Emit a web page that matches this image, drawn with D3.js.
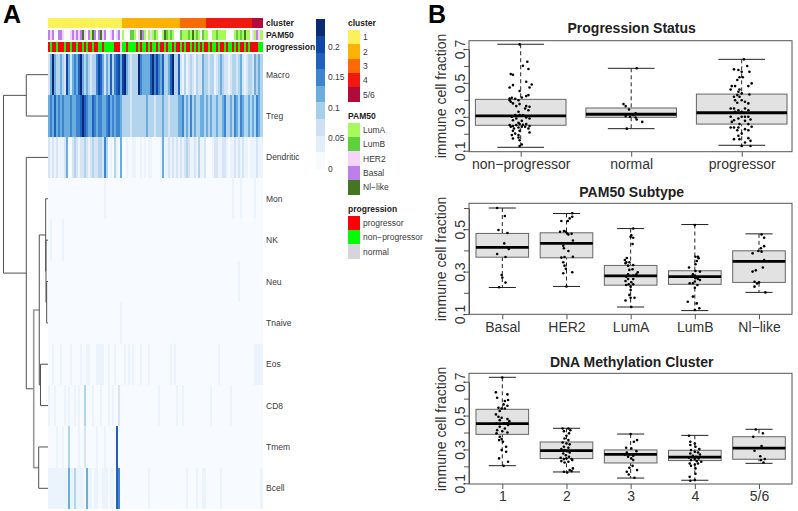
<!DOCTYPE html>
<html><head><meta charset="utf-8">
<script src="https://d3js.org/d3.v7.min.js"></script>
<style>html,body{margin:0;background:#fff}svg{display:block}text{font-family:"Liberation Sans",Arial,sans-serif}</style>
</head><body><svg id="c" width="798" height="511"></svg>
<script>
// ---- heatmap data (immune fraction in percent per sample column) ----
const rowNames=["Macro","Treg","Dendritic","Mon","NK","Neu","Tnaive","Eos","CD8","Tmem","Bcell"];
const clusterNames=["1","2","3","4","5/6"];
const clusterSizes=[37,29,13,23,5];
const pam50Names=["LumA","LumB","HER2","Basal","Nl−like"];
const progressionNames=["progressor","non−progressor","normal"];
const L=[0,1.5,4.5,8,12,15,18,20,23];
const keyStops=[0,2.5,5.5,9,12,15,18,20,23];
const macroLevels=[2,4,8,4,3,3,4,3,2,7,4,2,4,5,4,6,8,4,3,4,3,2,3,3,5,7,6,4,2,4,3,6,3,5,6,7,4,
 7,8,4,3,2,3,3,3,8,5,4,4,4,4,6,8,5,7,5,4,6,3,3,4,6,8,3,3,6,
 2,1,3,1,2,3,2,1,3,2,2,4,3,
 3,2,3,3,1,2,3,4,3,2,2,1,2,3,3,2,3,4,2,1,2,3,3,
 2,4,3,4,3];
const tregLevels=[4,5,4,6,4,5,4,5,4,4,4,5,4,4,5,5,6,8,6,5,4,4,6,5,4,5,5,4,4,5,6,4,5,4,5,5,4,
 3,3,3,3,2,3,3,3,3,3,3,3,4,3,3,3,2,3,3,3,4,3,3,2,3,3,3,3,4,
 4,5,3,4,3,5,3,4,3,3,4,4,3,
 4,3,4,3,3,4,3,3,4,5,3,3,4,3,5,4,3,5,4,3,3,4,3,
 4,3,5,4,3];
const dendriticLevels=[2,1,2,1,2,1,1,1,2,4,0,0,2,3,2,1,2,2,3,2,1,2,3,2,2,3,3,2,5,3,0,1,0,3,1,0,4,
 0,0,1,0,0,1,1,0,0,1,0,1,0,1,1,0,0,0,0,1,4,1,1,2,1,2,1,2,1,
 2,1,2,3,2,1,1,2,1,3,1,1,2,
 0,0,0,1,2,2,1,1,2,2,1,0,1,1,2,1,2,1,2,1,1,0,1,
 1,1,2,1,1];
// sparse rows: [column, level]; all other columns are near zero
const monCells=[[28,1],[92,1],[96,1],[103,1]];
const nkCells=[[1,1],[7,1]];
const neuCells=[[95,1]];
const tnaiveCells=[[36,1]];
const eosCells=[[2,1],[6,1],[11,1],[16,1],[19,1],[20,1],[24,1],[25,1],[26,1],[27,1],[30,1],[33,1],[38,1],[40,1],[42,1],[46,1],[50,1],[61,1],[63,1],[85,1],[103,1],[104,1],[105,1],[106,1]];
const cd8Cells=[[0,1],[3,1],[8,1],[10,1],[13,1],[15,1],[18,3],[22,1],[26,1],[30,1],[32,1],[35,2],[55,1],[64,1],[67,1],[81,1],[91,1]];
const tmemCells=[[4,1],[7,1],[10,3],[15,1],[18,2],[24,1],[28,1],[34,6]];
const bcellCells=[[0,1],[1,1],[2,1],[3,1],[4,1],[5,1],[6,1],[7,1],[8,1],[9,1],[10,4],[11,1],[12,1],[13,3],[14,1],[15,1],[16,1],[17,1],[19,4],[20,1],[21,1],[23,1],[24,1],[27,1],[28,1],[29,1],[31,1],[32,1],[34,6],[35,5],[50,1],[69,1],[74,1],[77,1],[78,1],[86,1],[106,1]];
// PAM50: 0 none, 1 LumA, 2 LumB, 3 HER2, 4 Basal, 5 Nl-like
const pam50Calls=[4,3,4,0,0,4,4,3,0,0,0,3,4,3,4,3,4,5,3,0,4,1,5,4,0,4,5,3,4,0,0,3,4,0,3,4,0,
 1,0,0,0,2,2,1,0,3,5,4,1,0,1,3,1,2,1,0,0,1,5,2,1,2,1,0,0,0,
 2,1,1,1,2,1,5,1,2,1,0,2,1,
 1,0,0,1,1,2,1,1,1,1,0,0,0,0,1,2,1,2,1,5,1,1,0,
 3,1,4,3,1];
// progression: 1 progressor, 2 non-progressor, 3 normal
const progressionCalls=[1,2,1,1,2,1,1,1,2,1,1,2,1,1,2,1,1,2,1,2,1,1,2,1,1,2,2,1,2,2,2,2,2,1,1,1,3,
 2,2,1,2,2,2,2,1,2,1,2,2,1,2,1,2,2,1,2,1,1,2,1,2,2,1,2,1,1,
 2,1,2,1,1,2,1,2,1,2,1,2,1,
 1,2,1,2,2,1,2,1,1,2,1,2,2,1,2,1,2,1,1,2,1,2,1,
 1,1,1,2,2];
// dendrogram merges
const dendrogram={h:1,children:[
 {h:.488,children:[{leaf:"Macro"},{leaf:"Treg"}]},
 {h:.488,children:[{leaf:"Dendritic"},{h:.321,gray:1,children:[
   {h:.196,children:[
     {h:.052,children:[{leaf:"Mon"},{h:.045,children:[{leaf:"NK"},{h:.03,children:[{leaf:"Neu"},{leaf:"Tnaive"}]}]}]},
     {h:.169,children:[{leaf:"Eos"},{leaf:"CD8"}]}]},
   {h:.209,children:[{leaf:"Tmem"},{leaf:"Bcell"}]}]}]}]};
// ---- box plot data: [q1, median, q3, whiskerLow, whiskerHigh] ----
const progNames=["non−progressor","normal","progressor"];
const progBoxes=[[.25,.305,.403,.12,.728],[.297,.315,.352,.23,.586],[.257,.324,.434,.132,.639]];
const pamNames=["Basal","HER2","LumA","LumB","Nl−like"];
const pamBoxes=[[.368,.414,.48,.225,.6],[.365,.433,.483,.23,.574],[.236,.28,.329,.133,.503],[.24,.276,.304,.116,.522],[.249,.348,.398,.202,.478]];
const methNames=["1","2","3","4","5/6"];
const methBoxes=[[.389,.452,.537,.204,.726],[.246,.293,.344,.167,.425],[.22,.271,.297,.131,.391],[.234,.255,.295,.118,.383],[.242,.308,.375,.218,.419]];
// jittered points: [jitter, value]
const progNon=[[-.01,.727],[.01,.137],[-.01,.127],[.06,.625],[.02,.601],[.07,.582],[-.09,.552],[-.07,.548],[.05,.507],[.1,.491],[.08,.473],[-.1,.473],[-.07,.487],[-.01,.452],[.05,.422],[.01,.414],[.07,.428],[-.1,.408],[-.08,.412],[-.05,.406],[-.02,.398],[-.09,.389],[-.07,.379],[-.04,.363],[-.01,.375],[-.1,.398],[.05,.363],[.08,.359],[.04,.349],[.07,.339],[-.02,.33],[-.05,.31],[-.08,.3],[-.01,.31],[.02,.31],[.05,.296],[.08,.29],[-.04,.29],[-.07,.28],[.01,.276],[-.02,.265],[-.1,.251],[-.07,.245],[-.04,.251],[-.01,.257],[.02,.253],[.05,.257],[.08,.245],[-.09,.241],[-.06,.231],[-.02,.237],[.01,.241],[.04,.241],[.07,.231],[-.07,.217],[-.01,.217],[.08,.207],[-.08,.192],[-.05,.201],[-.02,.192],[-.07,.172],[-.02,.178],[-.01,.162]];
const progNormal=[[.05,.586],[-.04,.23],[-.07,.375],[-.05,.363],[-.02,.343],[.04,.32],[-.05,.304],[-.01,.3],[.04,.296],[.05,.284],[.1,.27],[.02,.31]];
const progProg=[[.02,.639],[.08,.128],[.05,.6],[-.07,.58],[-.03,.576],[.07,.566],[0,.566],[.01,.533],[-.02,.533],[-.04,.517],[.09,.497],[-.09,.481],[-.06,.481],[.06,.481],[-.1,.461],[-.02,.461],[-.03,.448],[-.04,.428],[0,.438],[-.07,.418],[.07,.432],[-.02,.418],[-.06,.398],[0,.398],[-.04,.383],[.03,.389],[.06,.379],[-.07,.349],[-.1,.349],[-.03,.339],[.03,.349],[.06,.339],[0,.33],[-.06,.33],[-.1,.3],[-.07,.28],[-.09,.27],[-.03,.29],[0,.3],[.03,.3],[.06,.3],[.08,.284],[.03,.276],[-.02,.257],[.06,.257],[-.1,.237],[-.07,.237],[-.03,.237],[.03,.227],[.09,.241],[.06,.221],[-.04,.221],[0,.201],[-.03,.188],[-.07,.168],[-.02,.168],[.06,.174],[.08,.158],[.03,.148],[0,.128]];
const pamBasal=[[-.08,.6],[.04,.562],[-.06,.496],[.08,.482],[.03,.433],[-.08,.383],[.1,.407],[.05,.369],[-.01,.284],[0,.272],[.05,.248],[-.05,.226]];
const pamHer2=[[.09,.575],[.09,.559],[.05,.551],[-.08,.539],[.02,.539],[-.1,.488],[-.04,.491],[-.01,.488],[.01,.48],[.03,.475],[.08,.478],[.1,.447],[-.05,.422],[-.04,.41],[.03,.397],[-.08,.366],[-.03,.369],[.1,.37],[-.05,.344],[-.03,.328],[-.01,.313],[-.05,.292],[.09,.297],[0,.23]];
const pamLumA=[[.04,.503],[.01,.472],[.04,.46],[0,.464],[.03,.43],[-.06,.364],[-.09,.355],[-.07,.344],[-.02,.344],[.04,.331],[-.04,.328],[-.08,.339],[.03,.311],[-.02,.308],[.11,.297],[.09,.287],[-.04,.287],[.04,.281],[-.07,.276],[.09,.28],[-.04,.265],[.04,.265],[-.08,.256],[.01,.25],[-.03,.24],[.04,.24],[-.07,.237],[0,.229],[0,.213],[-.02,.19],[0,.177],[-.08,.164],[.06,.177],[.01,.133]];
const pamLumB=[[0,.52],[.05,.37],[.01,.37],[.06,.363],[.03,.35],[.01,.335],[-.09,.319],[.01,.303],[.08,.3],[-.03,.287],[0,.281],[-.06,.276],[.01,.269],[.05,.265],[.08,.26],[0,.253],[-.08,.245],[-.03,.245],[.04,.237],[0,.224],[-.03,.182],[-.11,.158],[.03,.15],[.07,.127],[0,.119]];
const pamNl=[[.04,.475],[.08,.46],[.08,.42],[.03,.41],[-.01,.397],[.04,.394],[-.1,.386],[.08,.354],[.06,.319],[-.05,.306],[-.1,.3],[-.07,.252],[0,.249],[-.03,.244],[-.07,.229],[.1,.202]];
const meth1=[[0,.725],[-.1,.637],[.08,.625],[-.08,.605],[.09,.592],[.04,.586],[.02,.566],[.08,.558],[-.06,.546],[-.01,.542],[.04,.542],[-.04,.527],[-.1,.507],[-.06,.493],[-.01,.487],[.08,.479],[-.04,.473],[.11,.467],[-.09,.454],[.03,.454],[.08,.454],[-.04,.434],[.09,.444],[.04,.424],[-.08,.414],[0,.408],[.08,.4],[-.09,.395],[-.04,.375],[-.01,.361],[-.05,.355],[.01,.345],[.06,.316],[-.01,.296],[.06,.286],[-.05,.247],[.09,.227],[.02,.203]];
const meth2=[[-.06,.424],[.03,.424],[.06,.414],[-.04,.408],[.04,.395],[0,.381],[-.03,.365],[.03,.355],[-.06,.341],[0,.335],[.05,.33],[-.04,.316],[.03,.31],[-.08,.302],[-.03,.296],[.01,.29],[.05,.282],[-.05,.276],[-.01,.266],[.04,.257],[-.09,.251],[-.04,.243],[0,.247],[.08,.243],[-.08,.231],[.03,.227],[.09,.237],[-.03,.223],[.1,.188],[.05,.178],[-.04,.168],[.01,.164],[.08,.172]];
const meth3=[[0,.391],[.1,.355],[.05,.345],[-.07,.31],[.01,.306],[.09,.29],[-.06,.282],[-.02,.27],[-.09,.27],[.04,.263],[-.04,.257],[.01,.247],[.04,.237],[.03,.203],[-.02,.192],[.1,.178],[-.06,.168],[-.03,.152],[.06,.133]];
const meth4=[[-.09,.381],[-.07,.345],[0,.335],[-.07,.326],[.01,.316],[.07,.302],[-.06,.296],[0,.286],[.05,.282],[-.07,.276],[.08,.27],[-.03,.263],[.02,.257],[-.09,.251],[.06,.247],[0,.243],[-.06,.237],[.03,.231],[.1,.227],[-.08,.217],[0,.211],[.05,.217],[-.06,.203],[.01,.188],[.01,.156],[-.08,.138],[0,.119],[-.07,.115]];
const meth5=[[-.05,.418],[.06,.395],[-.09,.375],[.04,.32],[-.07,.292],[.02,.26],[.09,.243],[.03,.237],[.07,.223]];
// ---- colours ----
const heatColors=["#f7fbff","#e3eefa","#cfdff4","#a8cfea","#6aaee0","#3d85d0","#1f60c0","#0f47a8","#0a2a78"];
const clusterColors=["#fdf15a","#fdb200","#fb6a05","#f3170f","#b30a3c"];
const pam50Colors=["#a6fa5a","#5fd13c","#f6d3fb","#bd80ea","#44751f"];
const progressionColors=["#fe0000","#00fe00","#d8d4dc"];

const svg=d3.select("#c");
const cols=d3.range(macroLevels.length);
const x=d3.scaleBand().domain(cols).range([48,262.5]);
const y=d3.scaleBand().domain(rowNames).range([54,509]);
const heat=d3.scaleLinear().domain(keyStops).range(heatColors).clamp(true);
const lvl=a=>a.map(l=>L[l]);
const sparse=c=>{const a=cols.map(()=>0);c.forEach(([i,l])=>a[i]=L[l]);return a;};
const matrix=[lvl(macroLevels),lvl(tregLevels),lvl(dendriticLevels),sparse(monCells),sparse(nkCells),sparse(neuCells),sparse(tnaiveCells),sparse(eosCells),sparse(cd8Cells),sparse(tmemCells),sparse(bcellCells)];
const gh=svg.append("g").attr("shape-rendering","crispEdges");
svg.append("rect").lower().attr("width",798).attr("height",511).attr("fill","#fff");
matrix.forEach((r,i)=>{
  gh.append("g").selectAll("rect").data(r).join("rect")
    .attr("x",(d,j)=>x(j)).attr("width",x.bandwidth()+.3)
    .attr("y",y(rowNames[i])).attr("height",y.bandwidth()+.3).attr("fill",d=>heat(d));
});
const lblStyle=(s,sz,w)=>s.attr("font-size",sz).attr("font-weight",w||"normal").attr("fill","#3a3a3a");
svg.append("g").selectAll("text").data(rowNames).join("text").attr("x",266)
  .attr("y",d=>y(d)+y.bandwidth()/2+3).text(d=>d).call(lblStyle,8.5);
// annotations
let cum=0;
const clusterSpans=clusterSizes.map((n,i)=>{const s={i,a:cum,b:cum+n-1};cum+=n;return s;});
gh.append("g").selectAll("rect").data(clusterSpans).join("rect")
  .attr("x",d=>x(d.a)).attr("width",d=>x(d.b)+x.bandwidth()-x(d.a)).attr("y",18).attr("height",9.6)
  .attr("fill",d=>clusterColors[d.i]);
gh.append("g").selectAll("rect").data(pam50Calls).join("rect")
  .attr("x",(d,j)=>x(j)).attr("width",x.bandwidth()).attr("y",29.5).attr("height",10.5)
  .attr("fill",d=>d?pam50Colors[d-1]:"#fff");
gh.append("g").selectAll("rect").data(progressionCalls).join("rect")
  .attr("x",(d,j)=>x(j)).attr("width",x.bandwidth()).attr("y",41.5).attr("height",10)
  .attr("fill",d=>progressionColors[d-1]);
[["cluster",26],["PAM50",38],["progression",50]].forEach(([t,yy])=>
  svg.append("text").attr("x",266).attr("y",yy).text(t).call(lblStyle,8.5,"bold").attr("fill","#222"));
// dendrogram
const root=d3.hierarchy(dendrogram);
const dx=d3.scaleLinear().domain([0,1]).range([48,3.5]);
root.eachAfter(n=>{
  if(n.data.leaf){n.yy=y(n.data.leaf)+y.bandwidth()/2;n.xx=dx(0);}
  else{n.yy=d3.mean(n.children,c=>c.yy);n.xx=dx(n.data.h);}
});
const gd=svg.append("g").attr("fill","none");
root.descendants().filter(n=>n.children).forEach(n=>{
  const p=d3.path();
  p.moveTo(n.children[0].xx,n.children[0].yy);p.lineTo(n.xx,n.children[0].yy);
  p.lineTo(n.xx,n.children[1].yy);p.lineTo(n.children[1].xx,n.children[1].yy);
  gd.append("path").attr("d",p.toString())
    .attr("stroke",n.data.gray?"#9a9a9a":"#505050").attr("stroke-width",n.data.gray?1.6:1);
});
// colour key
const keyBand=d3.scaleBand().domain(d3.range(9)).range([168.5,19]);
const keyScale=d3.scaleLinear().domain([0,.2]).range([168.5,46.5]);
gh.append("g").selectAll("rect").data(heatColors).join("rect").attr("x",316).attr("width",9)
  .attr("y",(d,i)=>keyBand(i)).attr("height",keyBand.bandwidth()+.3).attr("fill",d=>d);
svg.append("g").selectAll("text").data([0,.05,.1,.15,.2]).join("text").attr("x",328)
  .attr("y",d=>keyScale(d)+3).text(d=>d).call(lblStyle,8.5);
// legends
function legend(title,names,colors,titleY,top,bottom){
  const b=d3.scaleBand().domain(names).range([top,bottom]);
  svg.append("text").attr("x",348).attr("y",titleY).text(title).call(lblStyle,8.5,"bold").attr("fill","#222");
  gh.append("g").selectAll("rect").data(names).join("rect").attr("x",348).attr("width",12)
    .attr("y",d=>b(d)).attr("height",b.bandwidth()+.2).attr("fill",(d,i)=>colors[i]);
  svg.append("g").selectAll("text").data(names).join("text").attr("x",363)
    .attr("y",d=>b(d)+b.bandwidth()/2+3).text(d=>d).call(lblStyle,8.5);
}
legend("cluster",clusterNames,clusterColors,26,30,101.7);
legend("PAM50",pam50Names,pam50Colors,119,122.7,194.3);
legend("progression",progressionNames,progressionColors,212,216,258.7);
// panel letters
[["A",3,23],["B",428,23]].forEach(([t,a,b])=>svg.append("text").attr("x",a).attr("y",b).text(t)
  .attr("font-size",25).attr("font-weight","bold").attr("fill","#000"));
// box plot panels
function panel(o){
  const g=svg.append("g");
  const L0=469,R0=792;
  const X=d3.scalePoint().domain(o.names).range(o.xr);
  const step=(o.xr[1]-o.xr[0])/(o.names.length-1);
  const Y=d3.scaleLinear().domain([.1,o.tickTop]).range(o.yr);
  g.append("rect").attr("x",L0).attr("y",o.top).attr("width",R0-L0).attr("height",o.bottom-o.top)
    .attr("fill","#fff").attr("stroke","#555").attr("stroke-width",1);
  o.boxes.forEach((b,i)=>{
    const c=X(o.names[i]),w=step*.41,cap=w/2*1.03;
    const gb=g.append("g");
    gb.append("line").attr("x1",c).attr("x2",c).attr("y1",Y(b[4])).attr("y2",Y(b[3]))
      .attr("stroke","#222").attr("stroke-dasharray","4 3");
    [b[3],b[4]].forEach(v=>gb.append("line").attr("x1",c-cap).attr("x2",c+cap).attr("y1",Y(v)).attr("y2",Y(v)).attr("stroke","#222"));
    gb.append("rect").attr("x",c-w).attr("width",2*w).attr("y",Y(b[2])).attr("height",Y(b[0])-Y(b[2]))
      .attr("fill","#e2e2e2").attr("stroke","#666").attr("stroke-width",1);
    gb.append("line").attr("x1",c-w).attr("x2",c+w).attr("y1",Y(b[1])).attr("y2",Y(b[1])).attr("stroke","#000").attr("stroke-width",2.8);
    gb.selectAll("circle").data(o.points[i]).join("circle")
      .attr("cx",d=>c+d[0]*step).attr("cy",d=>Y(d[1])).attr("r",1.3).attr("fill","#000");
  });
  const ay=g.append("g").attr("transform",`translate(${L0},0)`)
    .call(d3.axisLeft(Y).tickValues(o.ticks).tickSize(5).tickSizeOuter(0)
      .tickFormat(d=>Math.round(d*10)%2===1?d3.format(".1f")(d):""));
  ay.select(".domain").attr("stroke","#555");
  ay.selectAll("line").attr("stroke","#555");
  ay.selectAll("text").attr("font-size",14).attr("fill","#333").attr("text-anchor","middle")
    .attr("transform","translate(-4.5,0) rotate(-90)").attr("x",0).attr("y",0).attr("dy",0);
  ay.attr("font-family",null);
  const ax=g.append("g").attr("transform",`translate(0,${o.bottom})`)
    .call(d3.axisBottom(X).tickSize(5).tickPadding(2.5));
  ax.select(".domain").remove();
  ax.selectAll("line").attr("stroke","#555");
  ax.selectAll("text").attr("font-size",14).attr("fill","#333");
  ax.attr("font-family",null);
  g.append("text").attr("x",631.7).attr("y",o.titleY).attr("text-anchor","middle").text(o.title)
    .attr("font-size",14).attr("font-weight","bold").attr("fill","#222");
  g.append("text").attr("transform",`translate(446,${o.labelY}) rotate(-90)`).attr("text-anchor","middle")
    .text("immune cell fraction").attr("font-size",14).attr("fill","#333");
}
panel({title:"Progression Status",names:progNames,boxes:progBoxes,points:[progNon,progNormal,progProg],
  xr:[520.7,741.7],tickTop:.7,yr:[150.7,49],top:40.7,bottom:151.7,titleY:33,labelY:96,ticks:[.1,.2,.3,.4,.5,.6,.7]});
panel({title:"PAM50 Subtype",names:pamNames,boxes:pamBoxes,points:[pamBasal,pamHer2,pamLumA,pamLumB,pamNl],
  xr:[502.3,759],tickTop:.6,yr:[314,208],top:203.3,bottom:314.3,titleY:196.5,labelY:259,ticks:[.1,.2,.3,.4,.5,.6]});
panel({title:"DNA Methylation Cluster",names:methNames,boxes:methBoxes,points:[meth1,meth2,meth3,meth4,meth5],
  xr:[502.3,759],tickTop:.7,yr:[483.3,381.7],top:373.3,bottom:484,titleY:366.5,labelY:429,ticks:[.1,.2,.3,.4,.5,.6,.7]});
</script></body></html>
